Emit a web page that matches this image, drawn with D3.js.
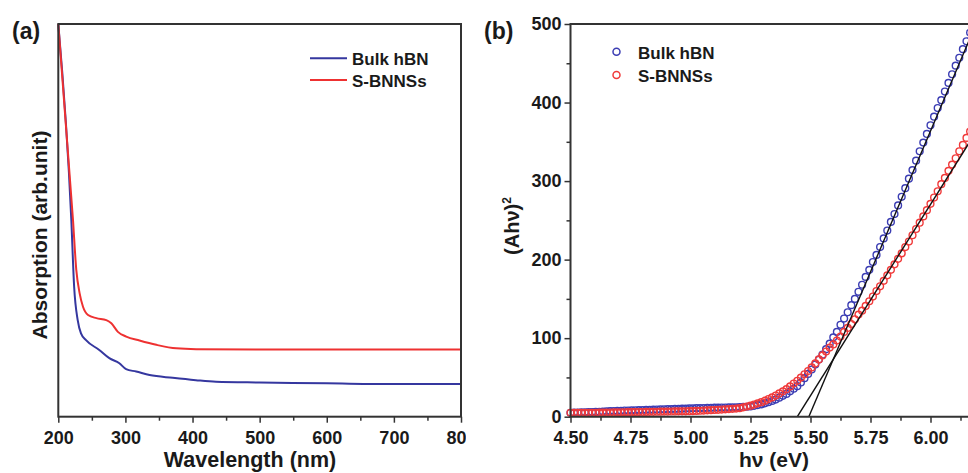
<!DOCTYPE html>
<html>
<head>
<meta charset="utf-8">
<script src="https://cdn.jsdelivr.net/npm/d3@7"></script>
<style>
  body { margin: 0; background: #fff; }
  svg text { font-family: Arial, "Liberation Sans", sans-serif; font-weight: bold; fill: #1a1a1a; }
</style>
</head>
<body>
<svg id="fig" width="968" height="473"></svg>
<script>
// ---- panel (a): absorption spectra ----
const bulkWave = [200, 219.4, 223.6, 228.9, 233.8, 241.3, 261, 276, 291, 301, 316, 336, 370.5, 405, 435, 500, 600, 700, 800];
const bulkAbs  = [1.000, 0.501, 0.331, 0.246, 0.212, 0.195, 0.170, 0.149, 0.136, 0.121, 0.115, 0.106, 0.099, 0.093, 0.089, 0.087, 0.085, 0.083, 0.083];
const sbnWave  = [200, 221.9, 226.8, 231.8, 236.8, 244.3, 256.7, 271.5, 279, 288.8, 301.2, 321, 346, 375.8, 405.6, 500, 600, 700, 800];
const sbnAbs   = [1.000, 0.501, 0.374, 0.314, 0.280, 0.259, 0.251, 0.246, 0.238, 0.216, 0.204, 0.194, 0.183, 0.174, 0.172, 0.171, 0.171, 0.171, 0.171];
const waveTicks = [200, 300, 400, 500, 600, 700, 800];
const waveMinor = [250, 350, 450, 550, 650, 750];

// ---- panel (b): Tauc plot ----
const hv = [4.500, 4.515, 4.530, 4.545, 4.560, 4.575, 4.590, 4.605, 4.620, 4.635, 4.650, 4.665, 4.680, 4.695, 4.710, 4.725, 4.740, 4.755, 4.770, 4.785,
  4.800, 4.815, 4.830, 4.845, 4.860, 4.875, 4.890, 4.905, 4.920, 4.935, 4.950, 4.965, 4.980, 4.995, 5.010, 5.025, 5.040, 5.055, 5.070, 5.085,
  5.100, 5.115, 5.130, 5.145, 5.160, 5.175, 5.190, 5.205, 5.220, 5.235, 5.250, 5.265, 5.280, 5.295, 5.310, 5.325, 5.340, 5.355, 5.370, 5.385,
  5.400, 5.415, 5.430, 5.445, 5.460, 5.475, 5.490, 5.505, 5.520, 5.535, 5.550, 5.565, 5.580, 5.595, 5.610, 5.625, 5.640, 5.655, 5.670, 5.685,
  5.700, 5.715, 5.730, 5.745, 5.760, 5.775, 5.790, 5.805, 5.820, 5.835, 5.850, 5.865, 5.880, 5.895, 5.910, 5.925, 5.940, 5.955, 5.970, 5.985,
  6.000, 6.015, 6.030, 6.045, 6.060, 6.075, 6.090, 6.105, 6.120, 6.135, 6.150, 6.165, 6.180];
const bulkAhv2 = [5.0, 5.2, 5.3, 5.5, 5.6, 5.8, 5.9, 6.1, 6.3, 6.5, 6.8, 7.0, 7.2, 7.4, 7.6, 7.8, 7.9, 8.1, 8.2, 8.4,
  8.5, 8.7, 8.8, 9.0, 9.1, 9.3, 9.4, 9.6, 9.7, 9.9, 10.0, 10.2, 10.3, 10.5, 10.6, 10.8, 10.9, 11.1, 11.2, 11.4,
  11.5, 11.6, 11.7, 11.7, 11.8, 11.9, 11.9, 12.1, 12.4, 12.7, 13.0, 13.9, 14.8, 15.7, 17.0, 18.5, 20.0, 21.8, 24.2, 26.6,
  29.0, 32.3, 35.6, 38.9, 43.6, 49.0, 54.4, 60.1, 66.4, 72.7, 79, 86, 93, 101, 108, 117, 125, 133, 142, 150,
  159, 168, 178, 187, 197, 206, 216, 227, 237, 248, 258, 269, 280, 291, 303, 314, 326, 338, 349, 360,
  371, 382, 393, 403, 414, 425, 436, 447, 457, 468, 478, 489, 500];
const sbnAhv2 = [5.0, 5.0, 5.0, 5.0, 5.0, 5.0, 5.0, 5.0, 5.1, 5.2, 5.2, 5.3, 5.4, 5.5, 5.6, 5.6, 5.7, 5.8, 5.9, 5.9,
  6.0, 6.1, 6.2, 6.2, 6.3, 6.4, 6.5, 6.5, 6.6, 6.7, 6.8, 6.8, 6.9, 7.0, 7.2, 7.4, 7.6, 7.8, 8.1, 8.3,
  8.5, 8.8, 9.1, 9.4, 9.7, 10.0, 10.3, 10.9, 11.9, 13.0, 14.0, 15.5, 17.0, 18.5, 20.4, 22.5, 24.6, 26.9, 29.6, 32.3,
  35.0, 38.6, 42.2, 45.8, 49.8, 54.0, 58.2, 62.7, 67.8, 72.9, 78, 83, 88, 92, 97, 102, 108, 113, 118, 124,
  130, 135, 141, 147, 153, 160, 166, 173, 180, 187, 194, 201, 208, 216, 223, 231, 239, 247, 255, 263,
  271, 279, 287, 296, 304, 313, 321, 329, 338, 346, 355, 363, 372];
// linear fits (end points)
const bulkFitHv = [5.493, 6.25];
const bulkFitY  = [0, 543];
const sbnFitHv  = [5.445, 6.25];
const sbnFitY   = [0, 392];
const hvTicks = [4.50, 4.75, 5.00, 5.25, 5.50, 5.75, 6.00];
const hvMinor = [4.625, 4.875, 5.125, 5.375, 5.625, 5.875, 6.125];
const ahvTicks = [0, 100, 200, 300, 400, 500];
const ahvMinor = [50, 150, 250, 350, 450];

const BLUE = '#35379f';
const RED = '#ee3131';
const plotTop = 24, plotBottom = 416.7;

const svg = d3.select('#fig');
svg.append('rect').attr('width', 968).attr('height', 473).attr('fill', '#fff');

// ================= panel (a) =================
svg.append('clipPath').attr('id', 'clipA')
  .append('rect').attr('x', 0).attr('y', 0).attr('width', 466).attr('height', 473);
const gA = svg.append('g').attr('clip-path', 'url(#clipA)');

const xA = d3.scaleLinear().domain([200, 800]).range([58.3, 461]);
const yA = d3.scaleLinear().domain([0, 1]).range([plotBottom, plotTop]);

const lineA = d3.line().x(d => xA(d[0])).y(d => yA(d[1])).curve(d3.curveMonotoneX);
gA.append('path')
  .attr('d', lineA(bulkWave.map((w, i) => [w, bulkAbs[i]])))
  .attr('fill', 'none').attr('stroke', BLUE).attr('stroke-width', 2);
gA.append('path')
  .attr('d', lineA(sbnWave.map((w, i) => [w, sbnAbs[i]])))
  .attr('fill', 'none').attr('stroke', RED).attr('stroke-width', 2);

const axA = gA.append('g').attr('transform', `translate(0,${plotBottom})`)
  .call(d3.axisBottom(xA).tickValues(waveTicks).tickSize(6).tickPadding(9).tickFormat(d3.format('d')));
gA.append('g').attr('transform', `translate(0,${plotBottom})`)
  .call(d3.axisBottom(xA).tickValues(waveMinor).tickSize(4).tickFormat(''));
gA.selectAll('.domain').remove();
gA.selectAll('.tick line').attr('stroke', '#333').attr('stroke-width', 1.5);
axA.selectAll('text').attr('font-size', 18).attr('font-family', null);

gA.append('rect')
  .attr('x', xA(200)).attr('y', plotTop)
  .attr('width', xA(800) - xA(200)).attr('height', plotBottom - plotTop)
  .attr('fill', 'none').attr('stroke', '#333').attr('stroke-width', 2);

// legend (a)
[['Bulk hBN', BLUE, 58.3], ['S-BNNSs', RED, 80]].forEach(([name, c, y]) => {
  gA.append('line').attr('x1', 310).attr('x2', 347).attr('y1', y).attr('y2', y)
    .attr('stroke', c).attr('stroke-width', 2);
  gA.append('text').attr('x', 352).attr('y', y + 6.5).attr('font-size', 17).text(name);
});

svg.append('text').attr('x', 12).attr('y', 39).attr('font-size', 23).text('(a)');
svg.append('text')
  .attr('transform', 'translate(47,235) rotate(-90)')
  .attr('text-anchor', 'middle').attr('font-size', 21)
  .text('Absorption (arb.unit)');
svg.append('text').attr('x', 250).attr('y', 467)
  .attr('text-anchor', 'middle').attr('font-size', 21.5).text('Wavelength (nm)');

// ================= panel (b) =================
const gB = svg.append('g');
const xB = d3.scaleLinear().domain([4.5, 6.25]).range([570.5, 990.5]);
const yB = d3.scaleLinear().domain([0, 500]).range([plotBottom, plotTop]);

gB.selectAll('circle.bulk')
  .data(hv.map((h, i) => [h, bulkAhv2[i]]))
  .join('circle').attr('class', 'bulk')
  .attr('cx', d => xB(d[0])).attr('cy', d => yB(d[1])).attr('r', 3.4)
  .attr('fill', 'none').attr('stroke', '#3b3db3').attr('stroke-width', 1.4);
gB.selectAll('circle.sbn')
  .data(hv.map((h, i) => [h, sbnAhv2[i]]))
  .join('circle').attr('class', 'sbn')
  .attr('cx', d => xB(d[0])).attr('cy', d => yB(d[1])).attr('r', 3.4)
  .attr('fill', 'none').attr('stroke', '#f03a3a').attr('stroke-width', 1.4);

svg.append('clipPath').attr('id', 'clipB')
  .append('rect').attr('x', 570.5).attr('y', plotTop).attr('width', 500).attr('height', plotBottom - plotTop);
const fitLine = d3.line().x(d => xB(d[0])).y(d => yB(d[1]));
[[bulkFitHv, bulkFitY], [sbnFitHv, sbnFitY]].forEach(([fx, fy]) => {
  gB.append('path')
    .attr('clip-path', 'url(#clipB)')
    .attr('d', fitLine(fx.map((h, i) => [h, fy[i]])))
    .attr('fill', 'none').attr('stroke', '#111').attr('stroke-width', 1.4);
});

const axBx = gB.append('g').attr('transform', `translate(0,${plotBottom})`)
  .call(d3.axisBottom(xB).tickValues(hvTicks).tickSize(6).tickPadding(9).tickFormat(d3.format('.2f')));
gB.append('g').attr('transform', `translate(0,${plotBottom})`)
  .call(d3.axisBottom(xB).tickValues(hvMinor).tickSize(4).tickFormat(''));
const axBy = gB.append('g').attr('transform', `translate(${xB(4.5)},0)`)
  .call(d3.axisLeft(yB).tickValues(ahvTicks).tickSize(6).tickPadding(3).tickFormat(d3.format('d')));
gB.append('g').attr('transform', `translate(${xB(4.5)},0)`)
  .call(d3.axisLeft(yB).tickValues(ahvMinor).tickSize(4).tickFormat(''));
gB.selectAll('.domain').remove();
gB.selectAll('.tick line').attr('stroke', '#333').attr('stroke-width', 1.5);
axBx.selectAll('text').attr('font-size', 18).attr('font-family', null);
axBy.selectAll('text').attr('font-size', 18).attr('font-family', null);

gB.append('path')
  .attr('d', `M968,${plotTop}H${xB(4.5)}V${plotBottom}H968`)
  .attr('fill', 'none').attr('stroke', '#333').attr('stroke-width', 2);

// legend (b)
[['Bulk hBN', '#3b3db3', 51.7], ['S-BNNSs', '#f03a3a', 75]].forEach(([name, c, y]) => {
  gB.append('circle').attr('cx', 616.5).attr('cy', y).attr('r', 3.5)
    .attr('fill', 'none').attr('stroke', c).attr('stroke-width', 1.5);
  gB.append('text').attr('x', 638).attr('y', y + 7).attr('font-size', 17).text(name);
});

svg.append('text').attr('x', 484).attr('y', 39).attr('font-size', 23).text('(b)');
const yl = svg.append('text')
  .attr('transform', 'translate(519,226) rotate(-90)')
  .attr('text-anchor', 'middle').attr('font-size', 20);
yl.append('tspan').text('(Ahν)');
yl.append('tspan').attr('font-size', 12).attr('dy', -8).text('2');
svg.append('text').attr('x', 774).attr('y', 467)
  .attr('text-anchor', 'middle').attr('font-size', 21).text('hν (eV)');
</script>
</body>
</html>
